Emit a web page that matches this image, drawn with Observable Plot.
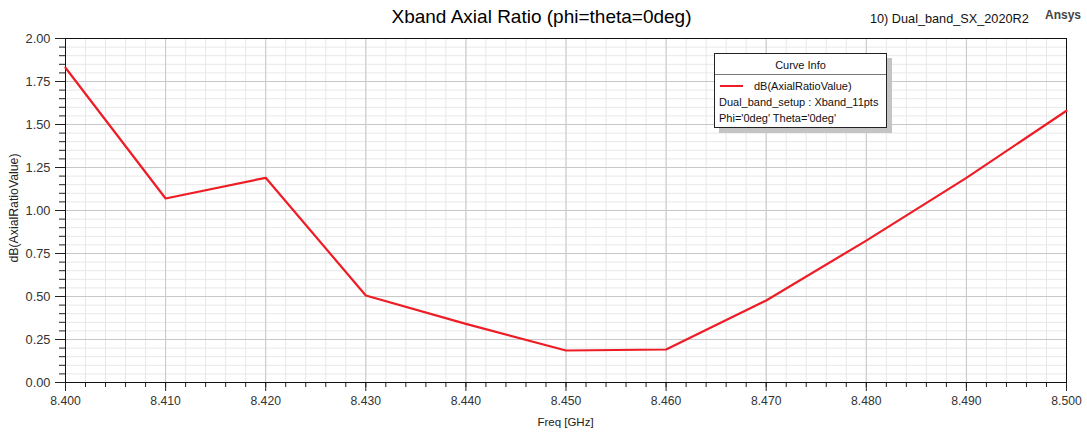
<!DOCTYPE html>
<html>
<head>
<meta charset="utf-8">
<script src="https://cdn.jsdelivr.net/npm/d3@7"></script>
<script src="https://cdn.jsdelivr.net/npm/@observablehq/plot@0.6"></script>
<style>
  html, body { margin: 0; padding: 0; background: #fff; }
  #wrap { position: relative; width: 1087px; height: 434px; font-family: "Liberation Sans", Arial, sans-serif; overflow: hidden; }
  .abs { position: absolute; white-space: nowrap; }
  #title { left: 0; width: 1083px; top: 6px; text-align: center; font-size: 19px; color: #000; }
  #proj { left: 870px; top: 12px; font-size: 12.7px; color: #111; }
  #ansys { left: 1045px; top: 8px; font-size: 12px; font-weight: bold; color: #444; }
  #xlab { left: 0; width: 1131px; top: 416px; text-align: center; font-size: 11.5px; color: #222; }
  #ylab { left: 14px; top: 208px; font-size: 12.3px; color: #222; transform: translate(-50%, -50%) rotate(-90deg); }
  #legend { left: 714px; top: 53px; width: 171px; height: 73px; border: 1px solid #222; background: #fff; box-shadow: 5px 5px 0 #c4c4c4; font-size: 11px; color: #111; }
  #legend .hdr { position: absolute; left: 0; width: 171px; top: 5px; text-align: center; }
  #legend .sep { position: absolute; left: 0; width: 171px; top: 20px; border-top: 1px solid #777; }
  #legend .sw { position: absolute; left: 5px; top: 31px; width: 23px; height: 0; border-top: 2px solid #ee1c25; }
  #legend .r1 { position: absolute; left: 39px; top: 26px; }
  #legend .r2 { position: absolute; left: 4px; top: 42px; }
  #legend .r3 { position: absolute; left: 4px; top: 58px; }
</style>
</head>
<body>
<div id="wrap">
  <div id="chart"></div>
  <div class="abs" id="title">Xband Axial Ratio (phi=theta=0deg)</div>
  <div class="abs" id="proj">10) Dual_band_SX_2020R2</div>
  <div class="abs" id="ansys">Ansys</div>
  <div class="abs" id="xlab">Freq [GHz]</div>
  <div class="abs" id="ylab">dB(AxialRatioValue)</div>
  <div class="abs" id="legend">
    <div class="hdr">Curve Info</div>
    <div class="sep"></div>
    <div class="sw"></div>
    <div class="r1">dB(AxialRatioValue)</div>
    <div class="r2">Dual_band_setup : Xband_11pts</div>
    <div class="r3">Phi='0deg' Theta='0deg'</div>
  </div>
</div>
<script>
// Data
const freqs = [8.400, 8.410, 8.420, 8.430, 8.440, 8.450, 8.460, 8.470, 8.480, 8.490, 8.500];
const axialRatio = [1.83, 1.07, 1.19, 0.506, 0.341, 0.186, 0.192, 0.477, 0.825, 1.19, 1.58];

const xMajorTicks = [8.40, 8.41, 8.42, 8.43, 8.44, 8.45, 8.46, 8.47, 8.48, 8.49, 8.50];
const xMinorTicks = d3.range(0, 51).map(i => 8.4 + i * 0.002);
const yMajorTicks = [0, 0.25, 0.5, 0.75, 1.0, 1.25, 1.5, 1.75, 2.0];
const yMinorTicks = d3.range(0, 41).map(i => i * 0.05);

const data = freqs.map((f, i) => ({freq: f, ar: axialRatio[i]}));
const blank = () => "";

const chart = Plot.plot({
  width: 1087,
  height: 434,
  marginLeft: 65,
  marginRight: 21,
  marginTop: 38,
  marginBottom: 52,
  style: {fontFamily: "'Liberation Sans', Arial, sans-serif", fontSize: "12px", color: "#333", background: "#fff"},
  x: {domain: [8.4, 8.5], axis: null},
  y: {domain: [0, 2], axis: null},
  marks: [
    Plot.gridX(xMinorTicks, {stroke: "#e8e8e8", strokeOpacity: 1, strokeWidth: 1}),
    Plot.gridY(yMinorTicks, {stroke: "#e8e8e8", strokeOpacity: 1, strokeWidth: 1}),
    Plot.gridX(xMajorTicks, {stroke: "#c8c8c8", strokeOpacity: 1, strokeWidth: 1}),
    Plot.gridY(yMajorTicks, {stroke: "#c8c8c8", strokeOpacity: 1, strokeWidth: 1}),
    Plot.axisX(xMinorTicks, {anchor: "bottom", tickSize: 5, tickFormat: blank, stroke: "#222", label: null}),
    Plot.axisY(yMinorTicks, {anchor: "left", tickSize: 6, tickFormat: blank, stroke: "#222", label: null}),
    Plot.axisX(xMajorTicks, {anchor: "bottom", tickSize: 9, tickPadding: 5, tickFormat: d3.format(".3f"), stroke: "#222", fill: "#333", fontSize: 12.2, label: null}),
    Plot.axisY(yMajorTicks, {anchor: "left", tickSize: 10, tickPadding: 5, tickFormat: d3.format(".2f"), stroke: "#222", fill: "#333", fontSize: 12.8, label: null}),
    Plot.frame({stroke: "#111", strokeWidth: 1}),
    Plot.line(data, {x: "freq", y: "ar", stroke: "#ee1c25", strokeWidth: 2.2})
  ]
});
document.getElementById("chart").appendChild(chart);
</script>
</body>
</html>
